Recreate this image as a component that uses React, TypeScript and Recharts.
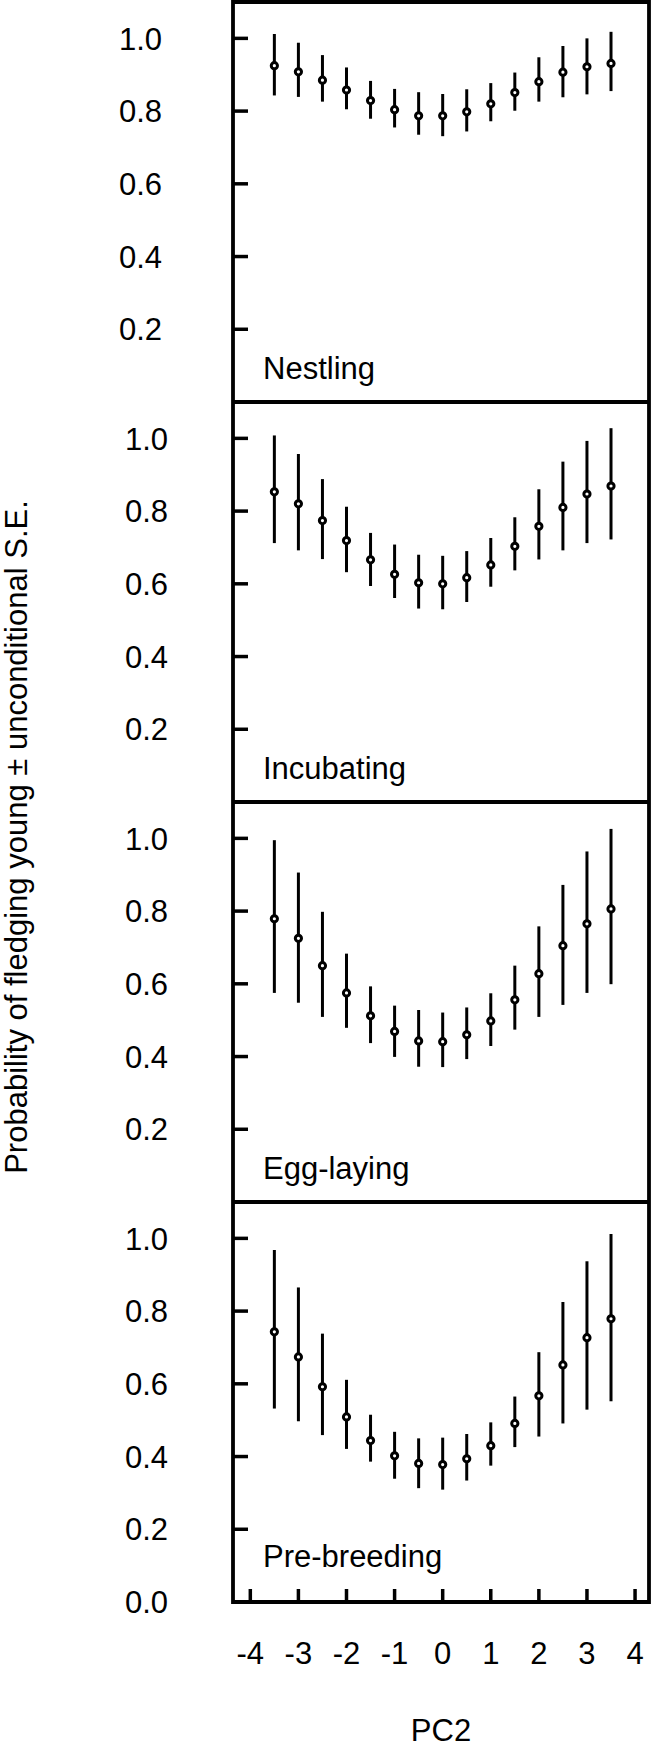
import React from "react"
import { ScatterChart, Scatter, XAxis, YAxis, ErrorBar, ReferenceArea } from "recharts"

// PC2 values where the model was evaluated
const pcValues = [-3.5, -3, -2.5, -2, -1.5, -1, -0.5, 0, 0.5, 1, 1.5, 2, 2.5, 3, 3.5]
const xTicks = [-4, -3, -2, -1, 0, 1, 2, 3, 4]
const yTicks = [0.2, 0.4, 0.6, 0.8, 1.0]
const yTicksBottom = [0, 0.2, 0.4, 0.6, 0.8, 1.0]

const nestlingMean = [0.925, 0.908, 0.885, 0.858, 0.829, 0.804, 0.787, 0.787, 0.798, 0.82, 0.851, 0.881, 0.907, 0.922, 0.931]
const nestlingHigh = [1.012, 0.988, 0.954, 0.92, 0.883, 0.861, 0.852, 0.847, 0.86, 0.877, 0.906, 0.948, 0.979, 1.0, 1.018]
const nestlingLow = [0.843, 0.839, 0.826, 0.805, 0.779, 0.755, 0.735, 0.731, 0.744, 0.772, 0.801, 0.826, 0.838, 0.846, 0.855]

const incubatingMean = [0.853, 0.82, 0.774, 0.719, 0.666, 0.626, 0.603, 0.6, 0.617, 0.652, 0.703, 0.758, 0.81, 0.847, 0.869]
const incubatingHigh = [1.008, 0.957, 0.888, 0.812, 0.74, 0.708, 0.68, 0.677, 0.69, 0.726, 0.783, 0.86, 0.936, 0.993, 1.028]
const incubatingLow = [0.712, 0.692, 0.668, 0.632, 0.594, 0.561, 0.532, 0.53, 0.55, 0.592, 0.637, 0.667, 0.692, 0.712, 0.722]

const eggMean = [0.779, 0.725, 0.65, 0.575, 0.512, 0.469, 0.443, 0.441, 0.46, 0.498, 0.556, 0.628, 0.705, 0.765, 0.806]
const eggHigh = [0.995, 0.906, 0.798, 0.683, 0.593, 0.54, 0.528, 0.521, 0.535, 0.574, 0.65, 0.758, 0.872, 0.964, 1.026]
const eggLow = [0.575, 0.548, 0.509, 0.479, 0.437, 0.399, 0.372, 0.371, 0.393, 0.429, 0.474, 0.509, 0.542, 0.575, 0.599]

const preMean = [0.743, 0.674, 0.592, 0.509, 0.444, 0.402, 0.381, 0.378, 0.394, 0.43, 0.491, 0.567, 0.652, 0.727, 0.779]
const preHigh = [0.968, 0.865, 0.738, 0.611, 0.515, 0.468, 0.45, 0.452, 0.462, 0.494, 0.565, 0.687, 0.825, 0.937, 1.012]
const preLow = [0.532, 0.497, 0.459, 0.421, 0.386, 0.339, 0.313, 0.309, 0.334, 0.375, 0.426, 0.455, 0.491, 0.529, 0.552]

const FONT = "'Liberation Sans', Arial, Helvetica, sans-serif"
const X_DOMAIN: [number, number] = [-4.36, 4.29]
const Y_DOMAIN: [number, number] = [0, 1.1]

const buildRows = (mean: number[], low: number[], high: number[]) =>
  pcValues.map((x, i) => ({ x, y: mean[i], err: [mean[i] - low[i], high[i] - mean[i]] }))

const YTick = ({ x, y, payload, labelGap }: any) => (
  <g>
    <line x1={x} x2={x + 15} y1={y} y2={y} stroke="#000" strokeWidth={3.5} />
    <text x={x - labelGap} y={y} dy="0.36em" textAnchor="end" fontSize={31} fontFamily={FONT} fill="#000">
      {Number(payload.value).toFixed(1)}
    </text>
  </g>
)

const XTick = ({ x, y, payload }: any) => (
  <g>
    <line x1={x} x2={x} y1={y} y2={y - 13} stroke="#000" strokeWidth={3.5} />
    <text x={x} y={y + 51} dy="0.36em" textAnchor="middle" fontSize={31} fontFamily={FONT} fill="#000">
      {payload.value}
    </text>
  </g>
)

const Dot = ({ cx, cy }: any) => (
  <circle cx={cx} cy={cy} r={3.1} fill="#fff" stroke="#000" strokeWidth={3} />
)

interface PanelProps {
  name: string
  mean: number[]
  low: number[]
  high: number[]
  top: number
  bottomPanel?: boolean
  labelGap: number
}

function Panel({ name, mean, low, high, top, bottomPanel, labelGap }: PanelProps) {
  const rows = buildRows(mean, low, high)
  const marginTop = top === 0 ? 2 : 0
  const height = 400 + marginTop + (bottomPanel ? 146 : 0)
  const nameOffset = bottomPanel ? 35 : 23

  const renderName = (props: any) => {
    const vb = props.viewBox
    return (
      <text x={vb.x + 30} y={vb.y + vb.height - nameOffset} fontSize={31} fontFamily={FONT} fill="#000">
        {name}
      </text>
    )
  }

  return (
    <div style={{ position: "absolute", left: 0, top, width: 651, height }}>
      <ScatterChart width={651} height={height} margin={{ top: marginTop, right: 2, bottom: 0, left: 0 }}>
        <XAxis
          type="number"
          dataKey="x"
          domain={X_DOMAIN}
          allowDataOverflow
          ticks={xTicks}
          interval={0}
          hide={!bottomPanel}
          height={bottomPanel ? 146 : 0}
          axisLine={false}
          tickLine={false}
          tickSize={0}
          tickMargin={0}
          tick={<XTick />}
          label={
            bottomPanel
              ? { value: "PC2", position: "insideBottom", offset: 7, fontSize: 31, fontFamily: FONT, fill: "#000" }
              : undefined
          }
        />
        <YAxis
          type="number"
          dataKey="y"
          domain={Y_DOMAIN}
          allowDataOverflow
          ticks={bottomPanel ? yTicksBottom : yTicks}
          interval={0}
          width={233}
          axisLine={false}
          tickLine={false}
          tickSize={0}
          tickMargin={0}
          tick={<YTick labelGap={labelGap} />}
        />
        {/* panel frame */}
        <ReferenceArea
          x1={X_DOMAIN[0]}
          x2={X_DOMAIN[1]}
          y1={Y_DOMAIN[0]}
          y2={Y_DOMAIN[1]}
          fill="none"
          fillOpacity={0}
          stroke="#000"
          strokeWidth={3.8}
          strokeOpacity={1}
          ifOverflow="visible"
          label={renderName}
        />
        <Scatter data={rows} shape={<Dot />} isAnimationActive={false}>
          <ErrorBar dataKey="err" direction="y" width={0} stroke="#000" strokeWidth={3} isAnimationActive={false} />
        </Scatter>
      </ScatterChart>
    </div>
  )
}

export default function App() {
  return (
    <div
      style={{
        position: "absolute",
        left: 0,
        top: 0,
        width: 651,
        height: 1748,
        background: "#fff",
        overflow: "hidden",
      }}
    >
      <Panel name="Nestling" mean={nestlingMean} low={nestlingLow} high={nestlingHigh} top={0} labelGap={71} />
      <Panel name="Incubating" mean={incubatingMean} low={incubatingLow} high={incubatingHigh} top={402} labelGap={65} />
      <Panel name="Egg-laying" mean={eggMean} low={eggLow} high={eggHigh} top={802} labelGap={65} />
      <Panel
        name="Pre-breeding"
        mean={preMean}
        low={preLow}
        high={preHigh}
        top={1202}
        bottomPanel
        labelGap={65}
      />

      {/* shared y axis title */}
      <svg width={40} height={1748} style={{ position: "absolute", left: 0, top: 0 }}>
        <text
          x={27}
          y={837}
          transform="rotate(-90, 27, 837)"
          textAnchor="middle"
          fontSize={31}
          fontFamily={FONT}
          fill="#000"
        >
          Probability of fledging young ± unconditional S.E.
        </text>
      </svg>
    </div>
  )
}
